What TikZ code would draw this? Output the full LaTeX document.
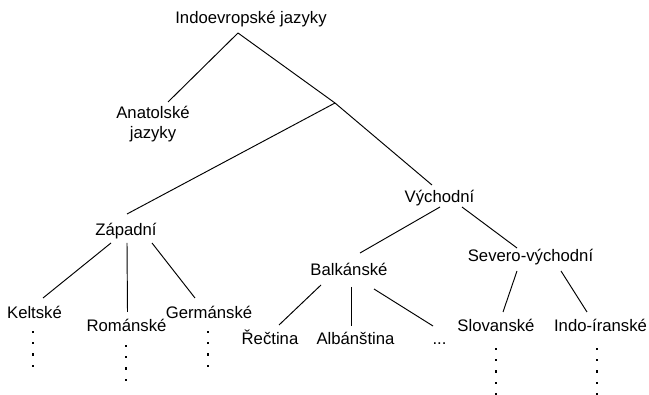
\documentclass[tikz,border=0pt]{standalone}
\usepackage{fontspec}
\setmainfont{Liberation Sans}
\begin{document}
\begin{tikzpicture}[x=1pt,y=-1pt,
  lab/.style={inner sep=0pt, anchor=base, font=\fontsize{16.7}{19.2}\selectfont},
  edge/.style={line width=0.95pt}]
\useasboundingbox (0,0) rectangle (649,395);
% nodes
\node[lab] (root) at (251,24) {Indoevropské jazyky};
\node[lab, anchor=center, align=center] (anat) at (153,124) {Anatolské\\jazyky};
\coordinate (junc) at (335,103);
\node[lab] (zap) at (126,236) {Západní};
\node[lab] (vych) at (439.5,203) {Východní};
\node[lab] (kelt) at (34.5,319) {Keltské};
\node[lab] (rom) at (126.5,332) {Románské};
\node[lab] (germ) at (209,319) {Germánské};
\node[lab] (balk) at (349,276) {Balkánské};
\node[lab] (sev) at (530.5,262) {Severo-východní};
\node[lab] (rec) at (270,345) {Řečtina};
\node[lab] (alb) at (355.5,345) {Albánština};
\node[lab] (etc) at (439.5,345) {...};
\node[lab] (slov) at (496,332) {Slovanské};
\node[lab] (indo) at (600.5,332) {Indo-íranské};
% connectors
\coordinate (top) at ([shift={(-13,9)}]root.base);
\draw[edge] (top) -- ([shift={(15,-22)}]anat.center);
\draw[edge] (top) -- (junc);
\draw[edge] (junc) -- ([shift={(1,-22)}]zap.base);
\draw[edge] (junc) -- ([shift={(-7.5,-18)}]vych.base);
\draw[edge] ([shift={(-15,7)}]zap.base) -- ([shift={(8.5,-21)}]kelt.base);
\draw[edge] ([shift={(1,7)}]zap.base) -- ([shift={(1,-20)}]rom.base);
\draw[edge] ([shift={(26,7)}]zap.base) -- ([shift={(-14,-21)}]germ.base);
\draw[edge] ([shift={(0.5,4)}]vych.base) -- ([shift={(11,-23)}]balk.base);
\draw[edge] ([shift={(22.5,4)}]vych.base) -- ([shift={(-13.5,-14)}]sev.base);
\draw[edge] ([shift={(-28,9)}]balk.base) -- ([shift={(9,-20)}]rec.base);
\draw[edge] ([shift={(2,11)}]balk.base) -- ([shift={(-4.5,-19)}]alb.base);
\draw[edge] ([shift={(25,13)}]balk.base) -- ([shift={(-6.5,-19)}]etc.base);
\draw[edge] ([shift={(-13.5,9)}]sev.base) -- ([shift={(7,-20)}]slov.base);
\draw[edge] ([shift={(30.5,9)}]sev.base) -- ([shift={(-13.5,-20)}]indo.base);
% vertical ellipses
\foreach \n/\dx/\dy/\m in {kelt/-1.5/13/3, rom/-0.5/14/3, germ/-1/13/3, slov/0/17/4, indo/-3.5/17/4}
  \foreach \k in {0,...,\m}
    \fill ([shift={(\dx,{\dy+11.3*\k})}]\n.base) ++(-1.1,-1.1) rectangle ++(2.2,2.2);
\end{tikzpicture}
\end{document}
